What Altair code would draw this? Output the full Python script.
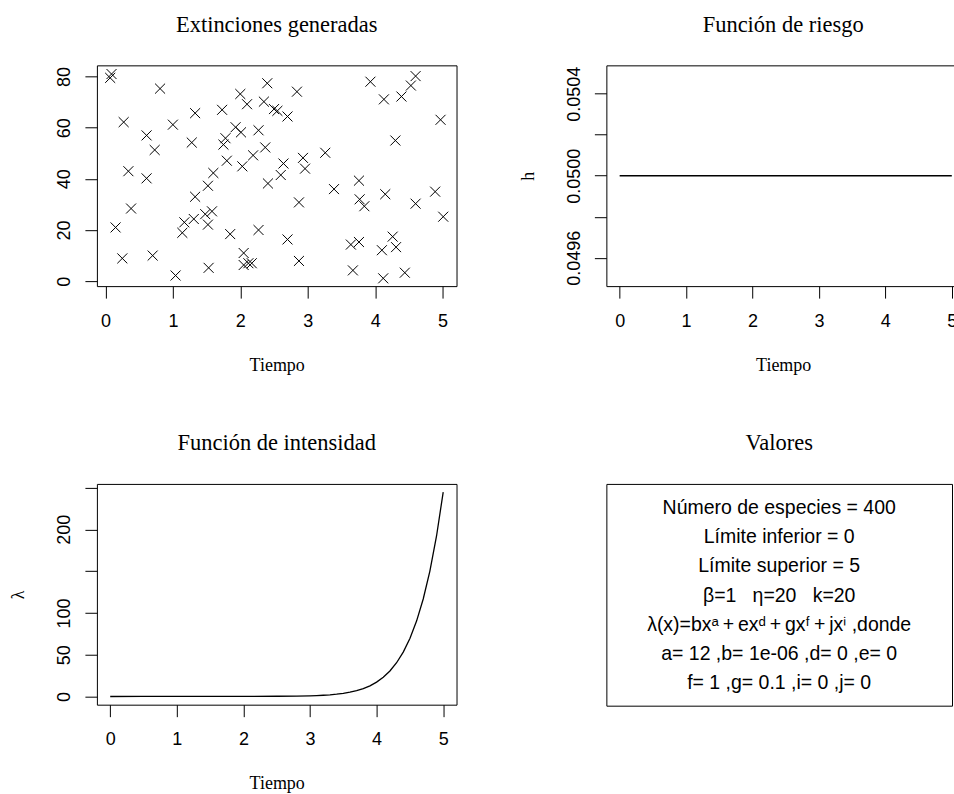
import altair as alt
import pandas as pd

# ---- data ----
ext_tiempo = [0.07, 0.09, 0.81, 2.40, 2.00, 2.10, 2.35, 2.50, 2.55, 1.73, 1.33, 0.27, 1.00, 0.61,
              0.73, 1.28, 1.93, 2.01, 2.27, 1.78, 1.75, 2.37, 2.19, 1.80, 2.03, 0.34, 0.61, 1.60,
              2.84, 3.93, 4.60, 4.53, 4.39, 4.13, 4.97, 2.70, 4.30, 3.26, 2.93, 2.96, 2.64, 2.60,
              1.52, 1.33, 0.38, 0.15, 1.17, 1.31, 1.48, 1.58, 1.52, 1.14, 0.25, 0.70, 1.04, 1.53,
              1.85, 2.27, 2.05, 2.05, 2.12, 2.17, 2.41, 2.87, 3.39, 3.76, 3.77, 3.84, 4.15, 4.60,
              4.89, 5.01, 2.70, 2.87, 3.64, 3.76, 3.67, 4.10, 4.26, 4.31, 4.12, 4.44]
ext_especie = [79.5, 81.0, 75.3, 77.4, 73.2, 69.2, 70.2, 67.3, 66.6, 67.0, 65.7, 62.2, 61.2, 57.0,
               51.3, 54.2, 60.2, 58.2, 59.0, 55.9, 53.4, 52.3, 49.2, 47.1, 44.9, 43.0, 40.2, 42.3,
               74.1, 78.0, 80.2, 76.5, 72.2, 71.1, 63.1, 64.4, 55.0, 50.2, 48.2, 44.0, 46.0, 41.5,
               37.3, 33.0, 28.4, 21.0, 23.0, 24.3, 26.2, 27.3, 22.1, 18.9, 8.9, 10.0, 2.2, 5.2,
               18.4, 20.0, 11.0, 6.3, 7.0, 7.0, 38.2, 30.8, 36.0, 39.3, 32.0, 29.3, 34.0, 30.3,
               35.0, 25.2, 16.3, 7.9, 14.3, 15.3, 4.2, 12.1, 17.4, 13.3, 1.1, 3.3]

riesgo_tiempo = [0, 1, 2, 3, 4, 5]
riesgo_h = [0.05, 0.05, 0.05, 0.05, 0.05, 0.05]

int_tiempo = [0.0, 0.5, 1.0, 1.5, 2.0, 2.5, 2.8, 3.0, 3.1, 3.2, 3.3, 3.4, 3.5, 3.6, 3.7, 3.8, 3.9,
              4.0, 4.1, 4.2, 4.3, 4.4, 4.5, 4.6, 4.7, 4.8, 4.9, 5.0]
int_lambda = [0.0, 0.05, 0.10, 0.15, 0.20, 0.31, 0.51, 0.83, 1.10, 1.47, 2.00, 2.73, 3.73, 5.10,
              6.95, 9.45, 12.77, 17.18, 22.97, 30.55, 40.39, 53.09, 69.40, 90.23, 116.66, 150.07,
              192.07, 244.64]

valores_lineas = [
    "Número de especies = 400",
    "Límite inferior = 0",
    "Límite superior = 5",
    "β=1\u00a0\u00a0\u00a0η=20\u00a0\u00a0\u00a0k=20",
    "λ(x)=bxᵃ\u2009+\u2009exᵈ\u2009+\u2009gxᶠ\u2009+\u2009jxⁱ ,donde",
    "a= 12 ,b= 1e-06 ,d= 0 ,e= 0",
    "f= 1 ,g= 0.1 ,i= 0 ,j= 0",
]

x_ticks = [0, 1, 2, 3, 4, 5]
y_ticks_ext = [0, 20, 40, 60, 80]
y_ticks_riesgo = [0.0496, 0.0498, 0.0500, 0.0502, 0.0504]
y_ticks_int = [0, 50, 100, 150, 200, 250]

# ---- styling ----
SERIF = "Liberation Serif"
SANS = "Liberation Sans"
W, H = 360, 221
W2 = 354
W_BOX, H_BOX = 346, 222

common = dict(grid=False, ticks=True, tickColor="black", tickSize=12,
              tickWidth=1, labelFont=SANS, labelFontSize=18, labelColor="black",
              titleFont=SERIF, titleFontSize=18, titleFontWeight="normal", titleColor="black",
              domainColor="black", domainWidth=1)


def x_axis(width, domain=False):
    return alt.Axis(values=x_ticks, format="d", labelPadding=14, labelAngle=0,
                    labelBaseline="top", labelAlign="center", labelFlush=False,
                    labelOverlap=False, title="Tiempo", titleX=width / 2, titleY=84,
                    titleBaseline="alphabetic", titleAlign="center", domain=domain, **common)


def y_axis(values, title, height, label_expr=None, fmt=None, domain=False):
    kw = dict(values=values, labelAngle=270, labelAlign="center", labelBaseline="bottom",
              labelPadding=11, labelFlush=False, labelOverlap=False, domain=domain, **common)
    if fmt:
        kw["format"] = fmt
    if label_expr:
        kw["labelExpr"] = label_expr
    if title:
        kw.update(title=title, titleAngle=270, titleX=-73, titleY=height / 2,
                  titleBaseline="alphabetic", titleAlign="center")
    else:
        kw["title"] = None
    return alt.Axis(**kw)


def ttl(text):
    return alt.TitleParams(text=text, font=SERIF, fontSize=22.5, fontWeight="normal",
                           color="black", offset=29, anchor="middle")


cross = "M-1,-1L1,1M-1,1L1,-1"

df_ext = pd.DataFrame({"Tiempo": ext_tiempo, "Especie": ext_especie})
tl = alt.Chart(df_ext).mark_point(shape=cross, size=100, filled=False, stroke="black",
                                  strokeWidth=1, opacity=1).encode(
    x=alt.X("Tiempo:Q", scale=alt.Scale(domain=[-0.127, 5.207], nice=False, zero=False),
            axis=x_axis(W)),
    y=alt.Y("Especie:Q", scale=alt.Scale(domain=[-1.95, 84.4], nice=False, zero=False),
            axis=y_axis(y_ticks_ext, None, H, fmt="d")),
).properties(width=W, height=H, title=ttl("Extinciones generadas"))

# top-right panel: its right side runs off the page, as in the reference
x_max_r = -0.2 + W2 / 66.5
df_r = pd.DataFrame({"Tiempo": riesgo_tiempo, "h": riesgo_h})
r_xscale = alt.Scale(domain=[-0.2, x_max_r], nice=False, zero=False)
r_yscale = alt.Scale(domain=[0.049462, 0.050538], nice=False, zero=False)
tr_line = alt.Chart(df_r).mark_line(color="black", strokeWidth=1.3, clip=True).encode(
    x=alt.X("Tiempo:Q", scale=r_xscale, axis=x_axis(W2, domain=True)),
    y=alt.Y("h:Q", scale=r_yscale,
            axis=y_axis(y_ticks_riesgo, "h", H, domain=True,
                        label_expr="(abs(datum.value-0.0498)<1e-7 || abs(datum.value-0.0502)<1e-7) ? '' : format(datum.value, '.4f')")),
)
tr_top = alt.Chart(df_r).mark_line(opacity=0).encode(
    x=alt.X("Tiempo:Q", scale=r_xscale,
            axis=alt.Axis(orient="top", labels=False, ticks=False, domain=True, grid=False,
                          domainColor="black", domainWidth=1, title=None)),
    y=alt.Y("h:Q", scale=r_yscale),
)
tr = alt.layer(tr_line, tr_top).resolve_axis(x="independent").properties(
    width=W2, height=H, title=ttl("Función de riesgo"),
    view=alt.ViewBackground(stroke="transparent"))

df_i = pd.DataFrame({"Tiempo": int_tiempo, "lam": int_lambda})
bl = alt.Chart(df_i).mark_line(color="black", strokeWidth=1.3).encode(
    x=alt.X("Tiempo:Q", scale=alt.Scale(domain=[-0.2, 5.2], nice=False, zero=False),
            axis=x_axis(W)),
    y=alt.Y("lam:Q", scale=alt.Scale(domain=[-9.8, 254.4], nice=False, zero=False),
            axis=y_axis(y_ticks_int, "λ", H,
                        label_expr="(datum.value == 150 || datum.value == 250) ? '' : format(datum.value, 'd')")),
).properties(width=W, height=H, title=ttl("Función de intensidad"))

df_v = pd.DataFrame({"idx": list(range(len(valores_lineas))), "pos": [0.5] * len(valores_lineas),
                     "txt": valores_lineas})
br = alt.Chart(df_v).mark_text(font=SANS, fontSize=19.5, color="black", baseline="middle",
                               align="center").encode(
    x=alt.X("pos:Q", scale=alt.Scale(domain=[0, 1]), axis=None),
    y=alt.Y("idx:Q", scale=alt.Scale(domain=[-0.82, 6.76], reverse=True, nice=False, zero=False),
            axis=None),
    text="txt:N",
).properties(width=W_BOX, height=H_BOX, title=ttl("Valores"))

chart = alt.concat(tl, tr, bl, br, columns=2, bounds="flush",
                   spacing=alt.RowColnumber(row=198, column=150)).configure_view(
    stroke="black", strokeWidth=1
).properties(
    background="white",
    padding={"left": 9, "top": 13, "right": -7, "bottom": 0},
)

chart.save("out.html", embed_options={"renderer": "svg", "actions": False})
